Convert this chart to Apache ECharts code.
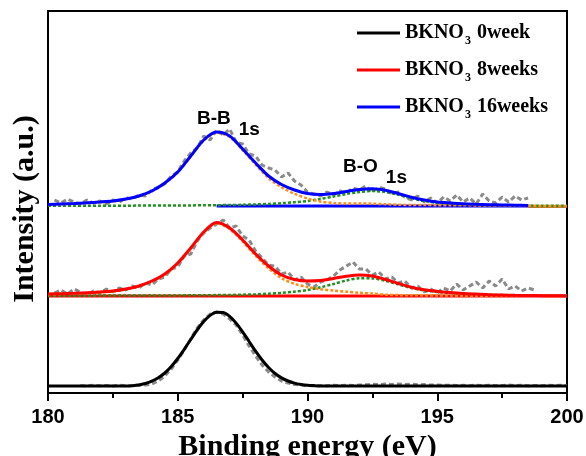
<!DOCTYPE html>
<html><head><meta charset="utf-8">
<script src="https://cdn.jsdelivr.net/npm/echarts/dist/echarts.min.js"></script>
<style>html,body{margin:0;padding:0;background:#fff}#c{width:586px;height:456px}</style>
</head><body><div id="c"></div>
<script>
// ---------- data ----------
var sampleNames = ['BKNO3 0week', 'BKNO3 8weeks', 'BKNO3 16weeks'];
var sampleColors = ['#000000', '#ff0000', '#0000ff'];
// vertical display offsets of each stacked spectrum (a.u.)
var offsets = [7, 97, 187];
var xTicks = [180, 185, 190, 195, 200];

// energy grid of the fitted curves (eV)
var fitE = [180,180.5,181,181.5,182,182.5,183,183.5,184,184.5,185,185.5,186,186.5,187,187.5,188,188.5,189,189.5,190,190.5,191,191.5,192,192.5,193,193.5,194,194.5,195,195.5,196,196.5,197,197.5,198,198.5,199,199.5,200];

// 16 weeks
var blueFit = [1.5,2,2.5,3.2,4,5,7,10,15,23,34,50,66,74,70,57,43,30,21.5,16,12.5,11.5,12.5,14.5,16.5,17.3,15.8,12.5,8.8,6,4,3,2.2,1.7,1.3,1,0.8,0.6,null,null,null];
var blueBB = [1.3,1.8,2.3,3.0,3.7,4.7,6.7,9.6,14.6,22.5,33.5,49.4,65.3,73.2,69,55.8,41.4,27.9,18.7,12.2,7.5,4.5,3.0,2.5,2.5,2.3,1.8,1.3,1.0,1.0,0.8,0.8,0.7,0.6,0.5,0.4,0.3,0.2,0.1,0,0];
var blueBO = [0.2,0.2,0.2,0.2,0.3,0.3,0.3,0.4,0.4,0.5,0.5,0.6,0.7,0.8,1.0,1.2,1.6,2.1,2.8,3.8,5.0,7.0,9.5,12,14,15,14,11.2,7.8,5.0,3.2,2.2,1.5,1.1,0.8,0.6,0.5,0.4,0.3,0.2,0.2];

// 8 weeks
var redFit = [2,2.3,2.7,3.2,4,5,7,10,15,22,33,48,64,73.5,68,56,42,30,21,16.5,15,15.5,17.5,19.8,21,20,16.5,12.5,8.8,6.2,4.6,3.4,2.5,1.9,1.3,1,0.7,0.5,0.3,0.2,0.1];
var redBB = [1.7,2.0,2.4,2.9,3.6,4.6,6.6,9.5,14.5,21.4,32.4,47.3,63.2,72.6,67,54.7,40.3,27.7,17.9,12.2,9.0,6.8,5.5,4.3,3.2,2.4,1.3,0.9,0.7,0.6,0.6,0.4,0.3,0.2,0.1,0.1,0,0,0,0,0];
var redBO = [0.3,0.3,0.3,0.3,0.4,0.4,0.4,0.5,0.5,0.6,0.6,0.7,0.8,0.9,1.0,1.3,1.7,2.3,3.1,4.3,6.0,8.7,12,15.5,17.8,17.6,15.2,11.6,8.1,5.6,4.0,3.0,2.2,1.7,1.2,0.9,0.7,0.5,0.4,0.3,0.2];

// 0 week (single B-B component)
var blackFitE = [180,183,183.25,183.5,183.75,184,184.25,184.5,184.75,185,185.25,185.5,185.75,186,186.25,186.5,186.75,187,187.25,187.5,187.75,188,188.25,188.5,188.75,189,189.25,189.5,189.75,190,190.25,190.5,191,200];
var blackFit = [0,0,0.3,1.0,2.5,4.8,8.2,13,19.5,27.5,36.7,46.5,56,64.4,70.6,73.7,73.4,69.6,62.9,54.2,44.5,34.8,26,18.5,12.5,8.1,5,2.9,1.6,0.8,0.4,0.1,0,0];

// measured (raw) spectra, energy grid (eV)
var rawE = [180.25,180.5,180.75,181,181.25,181.5,181.75,182,182.25,182.5,182.75,183,183.25,183.5,183.75,184,184.25,184.5,184.75,185,185.25,185.5,185.75,186,186.25,186.5,186.75,187,187.25,187.5,187.75,188,188.25,188.5,188.75,189,189.25,189.5,189.75,190,190.25,190.5,190.75,191,191.25,191.5,191.75,192,192.25,192.5,192.75,193,193.25,193.5,193.75,194,194.25,194.5,194.75,195,195.25,195.5,195.75,196,196.25,196.5,196.75,197,197.25,197.5,197.75,198,198.25,198.5,198.75,199,199.25,199.5,199.75,200];
var rawBlack = [null,null,null,null,0.5,0,0.8,0.2,0.6,0,0.7,0.3,0.5,0.8,1,2,5,10,17,26,36,47,58,66,72,74,72,67,61,51,40,30,21,14,9,5,3,1.5,1,0.5,0,0.6,0.2,0.7,0.3,0.8,0.4,1,1.2,1.8,1.4,2,1.6,2.1,1.5,1.8,1.2,1.4,0.9,1,0.6,0.8,0.4,0.7,0.3,0.9,0.5,0.8,0.3,0.6,0.9,0.4,0.8,0.3,0.6,0.2,0.7,0.4,0.8,0.5];
var rawRed = [3,6,2,7,4,1,5,3,7,4,8,6,10,8,13,11,17,19,27,29,40,42,55,63,68,72,76,68,70,60,56,45,38,31,30,22,24,16,19,12,9,14,16,20,26,30,34,27,27,21,24,17,19,13,15,8,10,4,7,3,8,5,12,6,10,14,8,15,10,17,7,10,5,8,6,null,null,null,null,null];
var rawBlue = [6,3,7,4,2,6,3,5,2,6,4,8,7,11,10,16,19,22,30,34,45,53,58,70,66,76,71,77,64,62,52,50,41,38,36,29,33,25,21,14,12,10,14,11,15,13,18,16,20,14,19,17,12,14,9,6,10,4,8,3,9,5,11,4,8,2,12,5,3,9,4,10,6,8,null,null,null,null,null,null];

// background (baseline) line extents of the stacked spectra (eV)
var redBaseE = [180, 200];
var blueBaseE = [186.5, 198.5];
var blueTailE = [198.5, 200];

// ---------- build ----------
function pts(E, v, off) {
  var out = [];
  for (var i = 0; i < E.length; i++) { if (v[i] != null) out.push([E[i], v[i] + off]); }
  return out;
}
var serif = "'Liberation Serif','Times New Roman',serif";
var sans = "'Liberation Sans',Arial,sans-serif";
var GRAY = '#8a8a8a', ORANGE = '#ff8c1a', GREEN = '#1f8f1f';

function rawSeries(v, off) {
  return {type: 'line', data: pts(rawE, v, off), symbol: 'none', silent: true, z: 1,
    lineStyle: {color: GRAY, width: 3, type: [5, 3]}};
}
function compSeries(v, off, color) {
  return {type: 'line', data: pts(fitE, v, off), symbol: 'none', silent: true, smooth: 0.3, z: 3,
    lineStyle: {color: color, width: 2.5, type: [3, 2]}};
}
function lineSeries(E, v, off, color, name, z) {
  return {type: 'line', name: name, data: pts(E, v, off), symbol: 'none', smooth: 0.3, z: z || 4,
    lineStyle: {color: color, width: 3}, itemStyle: {color: color}};
}

var series = [
  rawSeries(rawBlack, offsets[0]),
  rawSeries(rawRed, offsets[1]),
  rawSeries(rawBlue, offsets[2]),
  {type: 'line', data: pts(redBaseE, [0, 0], offsets[1]), symbol: 'none', silent: true, z: 2, lineStyle: {color: sampleColors[1], width: 3}},
  {type: 'line', data: pts(blueBaseE, [0, 0], offsets[2]), symbol: 'none', silent: true, z: 2, lineStyle: {color: sampleColors[2], width: 3}},
  {type: 'line', data: pts(blueTailE, [-0.5, -0.5], offsets[2]), symbol: 'none', silent: true, z: 2, lineStyle: {color: '#b07a2a', width: 3}},
  compSeries(redBO, offsets[1], GREEN),
  compSeries(redBB, offsets[1], ORANGE),
  compSeries(blueBO, offsets[2], GREEN),
  compSeries(blueBB, offsets[2], ORANGE),
  lineSeries(blackFitE, blackFit, offsets[0], sampleColors[0], sampleNames[0]),
  lineSeries(fitE, redFit, offsets[1], sampleColors[1], sampleNames[1]),
  lineSeries(fitE, blueFit, offsets[2], sampleColors[2], sampleNames[2])
];

var legendTops = [18, 55, 92];
var legends = sampleNames.map(function (n, i) {
  return {
    data: [n], left: 352, top: legendTops[i], orient: 'vertical', selectedMode: false,
    icon: 'rect', itemWidth: 43, itemHeight: 3,
    formatter: function (name) { return '{b|BKNO}{s|3}{b| ' + name.split(' ')[1] + '}'; },
    textStyle: {rich: {
      b: {fontFamily: serif, fontWeight: 'bold', fontSize: 20, color: '#000'},
      s: {fontFamily: serif, fontWeight: 'bold', fontSize: 12, color: '#000', padding: [15, 1, 0, 1]}
    }}
  };
});

var annRich = {
  a: {fontFamily: sans, fontWeight: 'bold', fontSize: 19, fill: '#000'},
  s: {fontFamily: sans, fontWeight: 'bold', fontSize: 19, fill: '#000', padding: [22, 0, 0, 8]}
};

var chart = echarts.init(document.getElementById('c'), null, {renderer: 'canvas'});
chart.setOption({
  animation: false,
  backgroundColor: '#fff',
  grid: {left: 48, right: 19, top: 11, bottom: 63, containLabel: false, outerBoundsMode: 'none',
    show: true, borderColor: '#000', borderWidth: 2, backgroundColor: 'transparent'},
  xAxis: {
    type: 'value', min: xTicks[0], max: xTicks[xTicks.length - 1], interval: 5,
    name: 'Binding energy (eV)', nameLocation: 'middle', nameGap: 32,
    nameTextStyle: {fontFamily: serif, fontWeight: 'bold', fontSize: 30, color: '#000'},
    axisLine: {show: true, lineStyle: {color: '#000', width: 2}},
    axisTick: {show: true, inside: false, length: 8, lineStyle: {color: '#000', width: 2}},
    minorTick: {show: true, splitNumber: 2, length: 5, lineStyle: {color: '#000', width: 2}},
    splitLine: {show: false},
    axisLabel: {fontFamily: sans, fontWeight: 'bold', fontSize: 20, color: '#000', margin: 14}
  },
  yAxis: {
    type: 'value', min: 0, max: 382,
    name: 'Intensity (a.u.)', nameLocation: 'middle', nameGap: 8,
    nameTextStyle: {fontFamily: serif, fontWeight: 'bold', fontSize: 30, color: '#000', padding: [0, 14, 0, 0]},
    axisLine: {show: true, lineStyle: {color: '#000', width: 2}},
    axisTick: {show: false}, axisLabel: {show: false}, splitLine: {show: false}
  },
  legend: legends,
  graphic: [
    {type: 'text', left: 197, top: 109, style: {text: '{a|B-B}{s|1s}', rich: annRich}},
    {type: 'text', left: 343, top: 157, style: {text: '{a|B-O}{s|1s}', rich: annRich}}
  ],
  series: series
});
</script></body></html>
